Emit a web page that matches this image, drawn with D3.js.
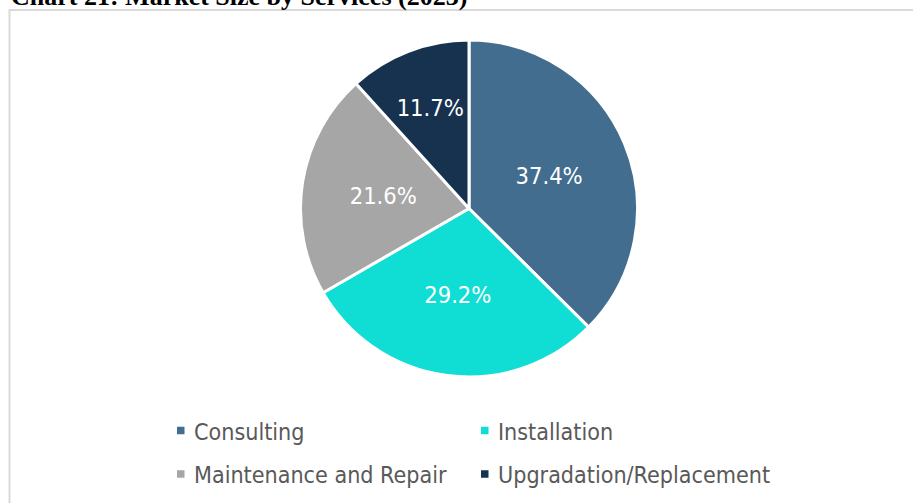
<!DOCTYPE html>
<html>
<head>
<meta charset="utf-8">
<script src="https://cdn.jsdelivr.net/npm/d3@7"></script>
<style>
  html, body { margin: 0; padding: 0; background: #ffffff; overflow: hidden; }
  svg { display: block; }
</style>
</head>
<body>
<svg id="chart" width="913" height="503"></svg>
<script>
const title = "Chart 21: Market Size by Services (2023)";
const categories = ["Consulting", "Installation", "Maintenance and Repair", "Upgradation/Replacement"];
const values = [37.4, 29.2, 21.6, 11.7];
const colors = ["#436d8f", "#10ddd4", "#a6a6a6", "#17324f"];

const svg = d3.select("#chart");
const W = 913, H = 503;
const FONT = "'DejaVu Sans Condensed', 'DejaVu Sans', Verdana, sans-serif";

// Chart frame (extends past right and bottom edges)
svg.append("rect")
  .attr("x", 9.5).attr("y", 10)
  .attr("width", W + 20).attr("height", H + 20)
  .attr("fill", "#ffffff")
  .attr("stroke", "#d9d9d9").attr("stroke-width", 2);

// Title (clipped at the top, as in the reference)
svg.append("text")
  .attr("x", 11).attr("y", 5)
  .attr("font-family", "'Liberation Serif', 'Times New Roman', serif")
  .attr("font-weight", "bold")
  .attr("font-size", 26)
  .attr("fill", "#000000")
  .text(title);

const cx = 469, cy = 208.5, r = 168.5;
const data = categories.map((c, i) => ({ name: c, value: values[i], color: colors[i] }));

const pie = d3.pie().sort(null).value(d => d.value).startAngle(0).endAngle(2 * Math.PI);
const arcs = pie(data);
const arc = d3.arc().innerRadius(0).outerRadius(r);

const g = svg.append("g").attr("transform", `translate(${cx},${cy})`);
g.selectAll("path.slice")
  .data(arcs)
  .join("path")
  .attr("class", "slice")
  .attr("d", arc)
  .attr("fill", d => d.data.color)
  .attr("stroke", "#ffffff")
  .attr("stroke-width", 3)
  .attr("stroke-linejoin", "round");

const total = d3.sum(values);
g.selectAll("text.lbl")
  .data(arcs)
  .join("text")
  .attr("class", "lbl")
  .attr("transform", d => {
    const share = d.data.value / total;
    const lr = share < 0.15 ? r * 0.64 : r * 0.515;
    const a = (d.startAngle + d.endAngle) / 2;
    return `translate(${lr * Math.sin(a)},${-lr * Math.cos(a)})`;
  })
  .attr("text-anchor", "middle")
  .attr("dy", "0.36em")
  .attr("font-family", FONT)
  .attr("font-size", 23.5)
  .attr("fill", "#ffffff")
  .text(d => d.data.value.toFixed(1) + "%");

// Legend
const legX = [177, 481], markY = [430.5, 474], baseY = [440, 483];
const leg = svg.append("g");
data.forEach((d, i) => {
  const col = i % 2, row = Math.floor(i / 2);
  leg.append("rect")
    .attr("x", legX[col]).attr("y", markY[row] - 3.75).attr("width", 7.5).attr("height", 7.5)
    .attr("fill", d.color);
  leg.append("text")
    .attr("x", legX[col] + 17).attr("y", baseY[row])
    .attr("font-family", FONT)
    .attr("font-size", 23.1)
    .attr("fill", "#595959")
    .text(d.name);
});
</script>
</body>
</html>
